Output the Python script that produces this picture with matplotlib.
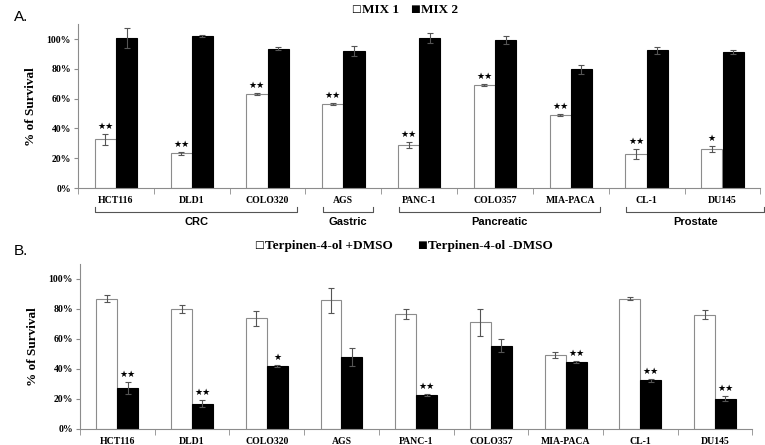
import numpy as np
import matplotlib.pyplot as plt
from matplotlib.ticker import FuncFormatter

cells = ['HCT116', 'DLD1', 'COLO320', 'AGS', 'PANC-1', 'COLO357', 'MIA-PACA', 'CL-1', 'DU145']

# panel A (% survival)
mix1 = [32.7, 23.3, 63.0, 56.4, 28.9, 69.0, 48.8, 22.8, 26.0]
mix1_err = [3.5, 1.0, 0.8, 0.8, 2.0, 0.7, 0.7, 3.5, 2.0]
mix2 = [100.8, 102.0, 93.6, 92.2, 100.6, 99.4, 79.9, 92.5, 91.4]
mix2_err = [7.0, 0.5, 0.8, 3.5, 3.5, 2.5, 3.0, 2.5, 1.5]
mix1_stars = ['★★', '★★', '★★', '★★', '★★', '★★', '★★', '★★', '★']

groups = ['CRC', 'Gastric', 'Pancreatic', 'Prostate']
group_span = [(0, 2), (3, 3), (4, 6), (7, 8)]

# panel B
plus_dmso = [86.7, 80.0, 73.8, 85.8, 76.4, 71.1, 49.1, 86.9, 76.0]
plus_err = [2.4, 2.4, 5.0, 8.4, 3.3, 9.0, 2.0, 1.2, 3.0]
minus_dmso = [27.4, 16.9, 42.0, 48.0, 22.4, 55.6, 44.4, 32.4, 20.2]
minus_err = [4.2, 2.4, 0.5, 6.0, 0.7, 4.2, 0.7, 0.8, 1.6]
minus_stars = ['★★', '★★', '★', '', '★★', '', '★★', '★★', '★★']

serif = ['Liberation Serif', 'DejaVu Sans']
star_font = ['DejaVu Sans']
w = 0.28
x = np.arange(len(cells))


def draw_panel(ax, white, white_err, black, black_err):
    ax.bar(x - w / 2, white, w, color='white', edgecolor='#8c8c8c', linewidth=0.8, zorder=2)
    ax.bar(x + w / 2, black, w, color='black', edgecolor='black', linewidth=0.8, zorder=2)
    ax.errorbar(x - w / 2, white, yerr=white_err, fmt='none', ecolor='#555555',
                elinewidth=0.8, capsize=2.5, capthick=0.8, zorder=3)
    ax.errorbar(x + w / 2, black, yerr=black_err, fmt='none', ecolor='#555555',
                elinewidth=0.8, capsize=2.5, capthick=0.8, zorder=3)
    ax.set_xlim(-0.5, len(cells) - 0.5)
    ax.set_ylim(0, 110)
    ax.set_yticks(np.arange(0, 101, 20))
    ax.yaxis.set_major_formatter(FuncFormatter(lambda v, p: f'{int(v)}%'))
    ax.set_xticks(x)
    ax.set_xticklabels(cells)
    ax.set_xticks(np.arange(-0.5, len(cells), 1), minor=True)
    ax.tick_params(axis='x', which='major', length=0, pad=6)
    ax.tick_params(axis='x', which='minor', length=4, color='#8c8c8c')
    ax.tick_params(axis='y', length=3, color='#8c8c8c', pad=2)
    for lab in ax.get_xticklabels() + ax.get_yticklabels():
        lab.set_family(serif)
        lab.set_fontweight('bold')
        lab.set_fontsize(7)
    for s in ['top', 'right']:
        ax.spines[s].set_visible(False)
    for s in ['left', 'bottom']:
        ax.spines[s].set_color('#8c8c8c')
        ax.spines[s].set_linewidth(0.8)
    ax.set_ylabel('% of Survival', family=serif, fontweight='bold', fontsize=9.5, labelpad=7)


fig = plt.figure(figsize=(7.65, 4.45), dpi=100)
ax1 = fig.add_axes([0.102, 0.5775, 0.892, 0.368])
ax2 = fig.add_axes([0.1045, 0.036, 0.879, 0.371])

draw_panel(ax1, mix1, mix1_err, mix2, mix2_err)
for i, s in enumerate(mix1_stars):
    ax1.text(x[i] - w / 2, mix1[i] + mix1_err[i] + 2, s, ha='center', va='bottom',
             fontsize=6.5, family=star_font)

draw_panel(ax2, plus_dmso, plus_err, minus_dmso, minus_err)
for i, s in enumerate(minus_stars):
    if s:
        ax2.text(x[i] + w / 2, minus_dmso[i] + minus_err[i] + 2, s, ha='center', va='bottom',
                 fontsize=6.5, family=star_font)

# group brackets under panel A
trans = ax1.get_xaxis_transform()
for name, (a, b) in zip(groups, group_span):
    left = a - 0.27
    right = b + 0.39 if b < len(cells) - 1 else b + 0.55
    yb, yt = -0.148, -0.118
    ax1.plot([left, left, right, right], [yt, yb, yb, yt], color='#555555', lw=0.8,
             transform=trans, clip_on=False)
    ax1.text((left + right) / 2, -0.21, name, transform=trans, ha='center', va='center',
             fontsize=8, family='Liberation Sans', fontweight='bold')


def legend_entry(xpos, ypos, marker, label):
    fig.text(xpos, ypos + 0.003, marker, ha='left', va='center', family='DejaVu Sans', fontsize=7.5)
    fig.text(xpos + 0.014, ypos, label, ha='left', va='center', family=serif,
             fontweight='bold', fontsize=9.5)


legend_entry(0.459, 0.977, '□', 'MIX 1')
legend_entry(0.536, 0.977, '■', 'MIX 2')
legend_entry(0.332, 0.447, '□', 'Terpinen-4-ol +DMSO')
legend_entry(0.545, 0.447, '■', 'Terpinen-4-ol -DMSO')

fig.text(0.018, 0.962, 'A.', ha='left', va='center', family='Liberation Sans', fontsize=11)
fig.text(0.018, 0.435, 'B.', ha='left', va='center', family='Liberation Sans', fontsize=11)

fig.savefig('out.png', dpi=100)
